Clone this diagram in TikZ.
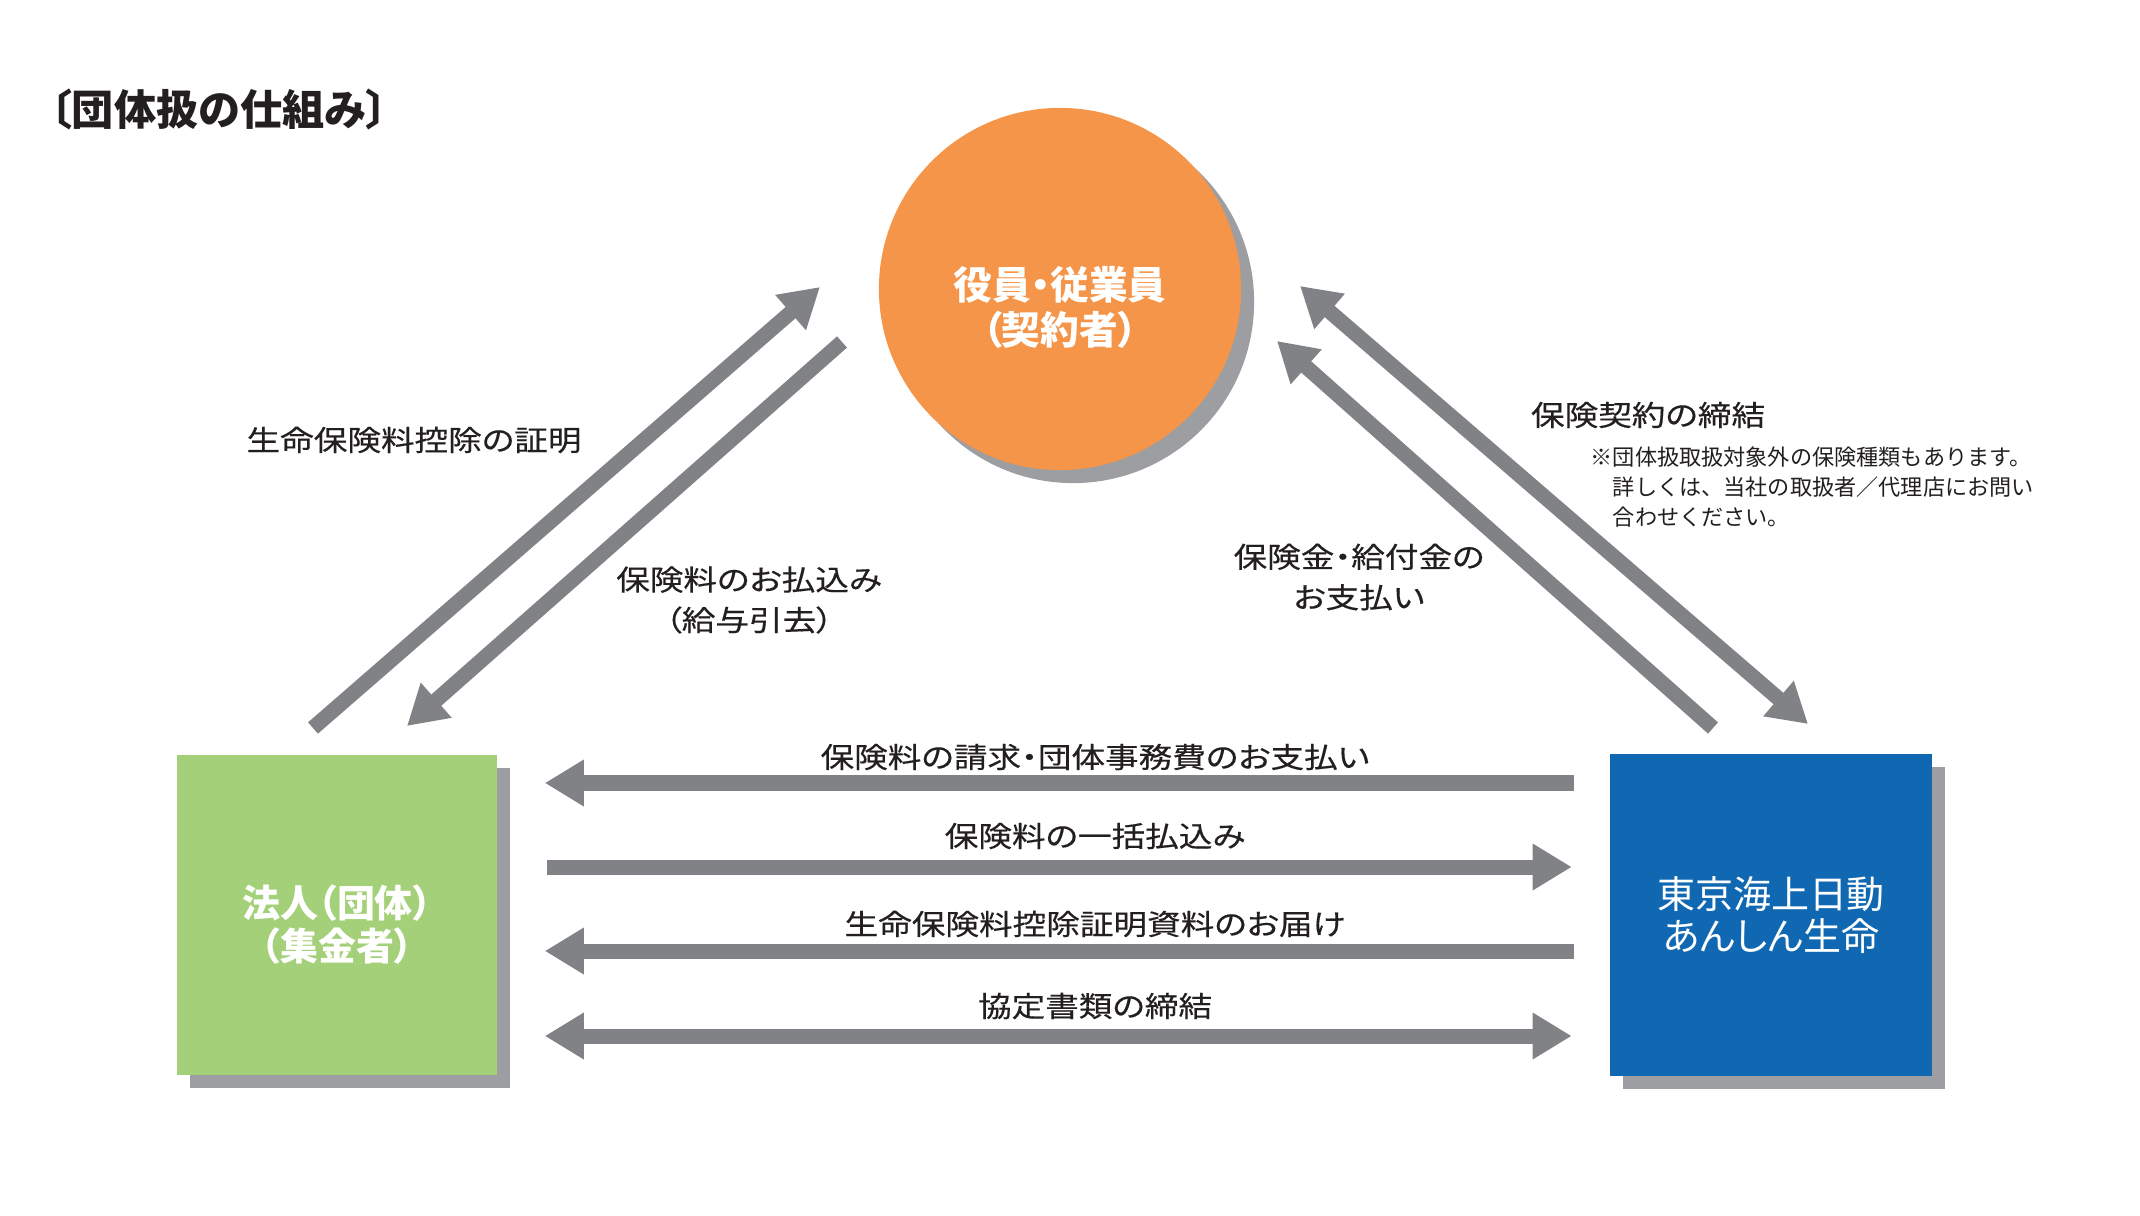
\documentclass[tikz,border=0pt]{standalone}
\usepackage{fontspec}
\usepackage{tikz}
\usetikzlibrary{arrows.meta, shadows}
\usepackage{xcolor}

\newfontfamily\jpfont[RawFeature=+palt]{Noto Sans CJK JP}
\newfontfamily\jplabelfont[RawFeature=+palt, FakeStretch=1.18, FakeBold=0.4]{Noto Sans CJK JP}
\newfontfamily\jpnotefont{Noto Sans CJK JP}

\definecolor{arrowgray}{HTML}{808285}
\definecolor{shadowgray}{HTML}{9D9EA1}
\definecolor{stafforange}{HTML}{F5954A}
\definecolor{corpgreen}{HTML}{A3D078}
\definecolor{insblue}{HTML}{1068B2}
\definecolor{inkblack}{HTML}{231F20}

\begin{document}
\begin{tikzpicture}[x=0.01cm, y=-0.01cm, >={Triangle[width=0.44cm, length=0.39cm]},
        flow/.style={draw=arrowgray, line width=0.15cm},
        lbl/.style={text=inkblack, align=center, inner sep=0pt, font=\jplabelfont\fontsize{8.1}{11.5}\selectfont},
        castshadow/.style={drop shadow={shadow xshift=0.13cm, shadow yshift=-0.13cm, fill=shadowgray, opacity=1}}]
        \useasboundingbox (0,0) rectangle (2140,1216);

        % title
        \node[anchor=west, inner sep=0pt, text=inkblack, font=\jpfont\bfseries\fontsize{12}{14}\selectfont] (title) at (50,109) {〔団体扱の仕組み〕};

        % parties
        \node[circle, fill=stafforange, minimum size=3.62cm, castshadow,
              label={[text=white, align=center, yshift=-0.18cm, font=\jpfont\bfseries\fontsize{11}{12.8}\selectfont]center:役員・従業員\\（契約者）}] (staff) at (1060,289) {};
        \node[rectangle, fill=corpgreen, minimum size=3.2cm, castshadow,
              label={[text=white, align=center, yshift=-0.1cm, font=\jpfont\bfseries\fontsize{10.8}{12.2}\selectfont]center:法人（団体）\\（集金者）}] (corp) at (337,915) {};
        \node[rectangle, fill=insblue, minimum size=3.21cm, castshadow, text=white, align=center,
              font=\jpfont\fontsize{10.8}{12}\selectfont] (insurer) at (1771,915) {東京海上日動\\あんしん生命};

        % diagonal flow ends
        \coordinate (certtail) at (313,728);
        \coordinate (certtip) at (820,287);
        \coordinate (paytail) at (842,342);
        \coordinate (paytip) at (407,726);
        \coordinate (contractA) at (1300,286);
        \coordinate (contractB) at (1808,724);
        \coordinate (benefittail) at (1713,728);
        \coordinate (benefittip) at (1277,341);

        % rows of the horizontal flows
        \coordinate (row1) at (0,783);
        \coordinate (row2) at (0,867);
        \coordinate (row3) at (0,951);
        \coordinate (row4) at (0,1036);

        % staff <-> corporation
        \draw[flow,->] (certtail) -- (certtip);
        \draw[flow,->] (paytail) -- (paytip);
        \node[lbl] (certlbl) at (414,440) {生命保険料控除の証明};
        \node[lbl] (paylbl) at (749,600) {保険料のお払込み\\（給与引去）};

        % staff <-> insurer
        \draw[flow,<->] (contractA) -- (contractB);
        \draw[flow,->] (benefittail) -- (benefittip);
        \node[lbl] (contractlbl) at (1648,415) {保険契約の締結};
        \node[lbl] (benefitlbl) at (1359,577) {保険金・給付金の\\お支払い};
        \node[anchor=west, inner sep=0pt, align=left, text=inkblack, font=\jpnotefont\fontsize{6.3}{8.6}\selectfont] (note) at (1590,487)
            {※団体扱取扱対象外の保険種類もあります。\\\phantom{※}詳しくは、当社の取扱者／代理店にお問い\\\phantom{※}合わせください。};

        % corporation <-> insurer
        \draw[flow,->, shorten <=0.36cm, shorten >=0.47cm] (insurer.west |- row1) -- (corp.east |- row1);
        \draw[flow,->, shorten <=0.49cm, shorten >=0.38cm] (corp.east |- row2) -- (insurer.west |- row2);
        \draw[flow,->, shorten <=0.36cm, shorten >=0.47cm] (insurer.west |- row3) -- (corp.east |- row3);
        \draw[flow,<->, shorten <=0.47cm, shorten >=0.38cm] (corp.east |- row4) -- (insurer.west |- row4);
        \node[lbl] (billlbl) at (1095,757) {保険料の請求・団体事務費のお支払い};
        \node[lbl] (lumplbl) at (1095,836) {保険料の一括払込み};
        \node[lbl] (docslbl) at (1095,924) {生命保険料控除証明資料のお届け};
        \node[lbl] (agreelbl) at (1095,1006) {協定書類の締結};
\end{tikzpicture}
\end{document}
